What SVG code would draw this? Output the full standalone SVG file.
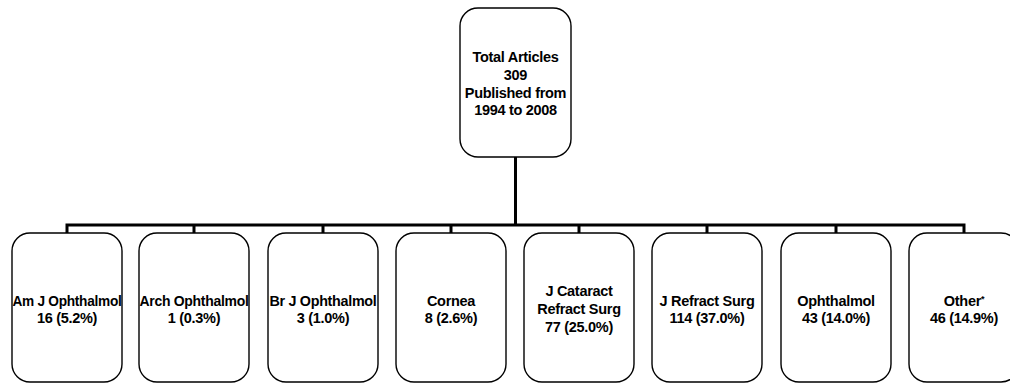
<svg xmlns="http://www.w3.org/2000/svg" width="1010" height="383" viewBox="0 0 1010 383">
<style>
.box{fill:#fff;stroke:#000;stroke-width:1.4}
.t{font-family:"Liberation Sans",Arial,sans-serif;font-weight:bold;font-size:14.5px;letter-spacing:-0.3px;text-anchor:middle;fill:#000}
.c{fill:none;stroke:#000;stroke-width:3}
</style>
<rect width="1010" height="383" fill="#fff"/>
<g id="connectors">
<path class="c" d="M515.5 157V225M65.5 225H965.5M67 225V233M194 225V233M323 225V233M451 225V233M579 225V233M707 225V233M836 225V233M964 225V233"/>
</g>
<g id="root">
<rect class="box" x="460" y="8" width="111" height="149" rx="18"/>
<text class="t" x="515.5" y="62">Total Articles</text>
<text class="t" x="515.5" y="80">309</text>
<text class="t" x="515.5" y="97.5">Published from</text>
<text class="t" x="515.5" y="115">1994 to 2008</text>
</g>
<g id="n1">
<rect class="box" x="12" y="233" width="110" height="149" rx="18"/>
<text class="t" x="67" y="306" textLength="109" lengthAdjust="spacingAndGlyphs">Am J Ophthalmol</text>
<text class="t" x="67" y="323">16 (5.2%)</text>
</g>
<g id="n2">
<rect class="box" x="139" y="233" width="110" height="149" rx="18"/>
<text class="t" x="194" y="306" textLength="109" lengthAdjust="spacingAndGlyphs">Arch Ophthalmol</text>
<text class="t" x="194" y="323">1 (0.3%)</text>
</g>
<g id="n3">
<rect class="box" x="268" y="233" width="110" height="149" rx="18"/>
<text class="t" x="323" y="306" textLength="107" lengthAdjust="spacingAndGlyphs">Br J Ophthalmol</text>
<text class="t" x="323" y="323">3 (1.0%)</text>
</g>
<g id="n4">
<rect class="box" x="396" y="233" width="110" height="149" rx="18"/>
<text class="t" x="451" y="306">Cornea</text>
<text class="t" x="451" y="323">8 (2.6%)</text>
</g>
<g id="n5">
<rect class="box" x="524" y="233" width="110" height="149" rx="18"/>
<text class="t" x="579" y="296">J Cataract</text>
<text class="t" x="579" y="314">Refract Surg</text>
<text class="t" x="579" y="332">77 (25.0%)</text>
</g>
<g id="n6">
<rect class="box" x="652" y="233" width="110" height="149" rx="18"/>
<text class="t" x="707" y="306">J Refract Surg</text>
<text class="t" x="707" y="323">114 (37.0%)</text>
</g>
<g id="n7">
<rect class="box" x="781" y="233" width="110" height="149" rx="18"/>
<text class="t" x="836" y="306">Ophthalmol</text>
<text class="t" x="836" y="323">43 (14.0%)</text>
</g>
<g id="n8">
<rect class="box" x="909" y="233" width="110" height="149" rx="18"/>
<text class="t" x="964" y="306">Other<tspan font-size="9" dy="-4">*</tspan></text>
<text class="t" x="964" y="323">46 (14.9%)</text>
</g>
</svg>
